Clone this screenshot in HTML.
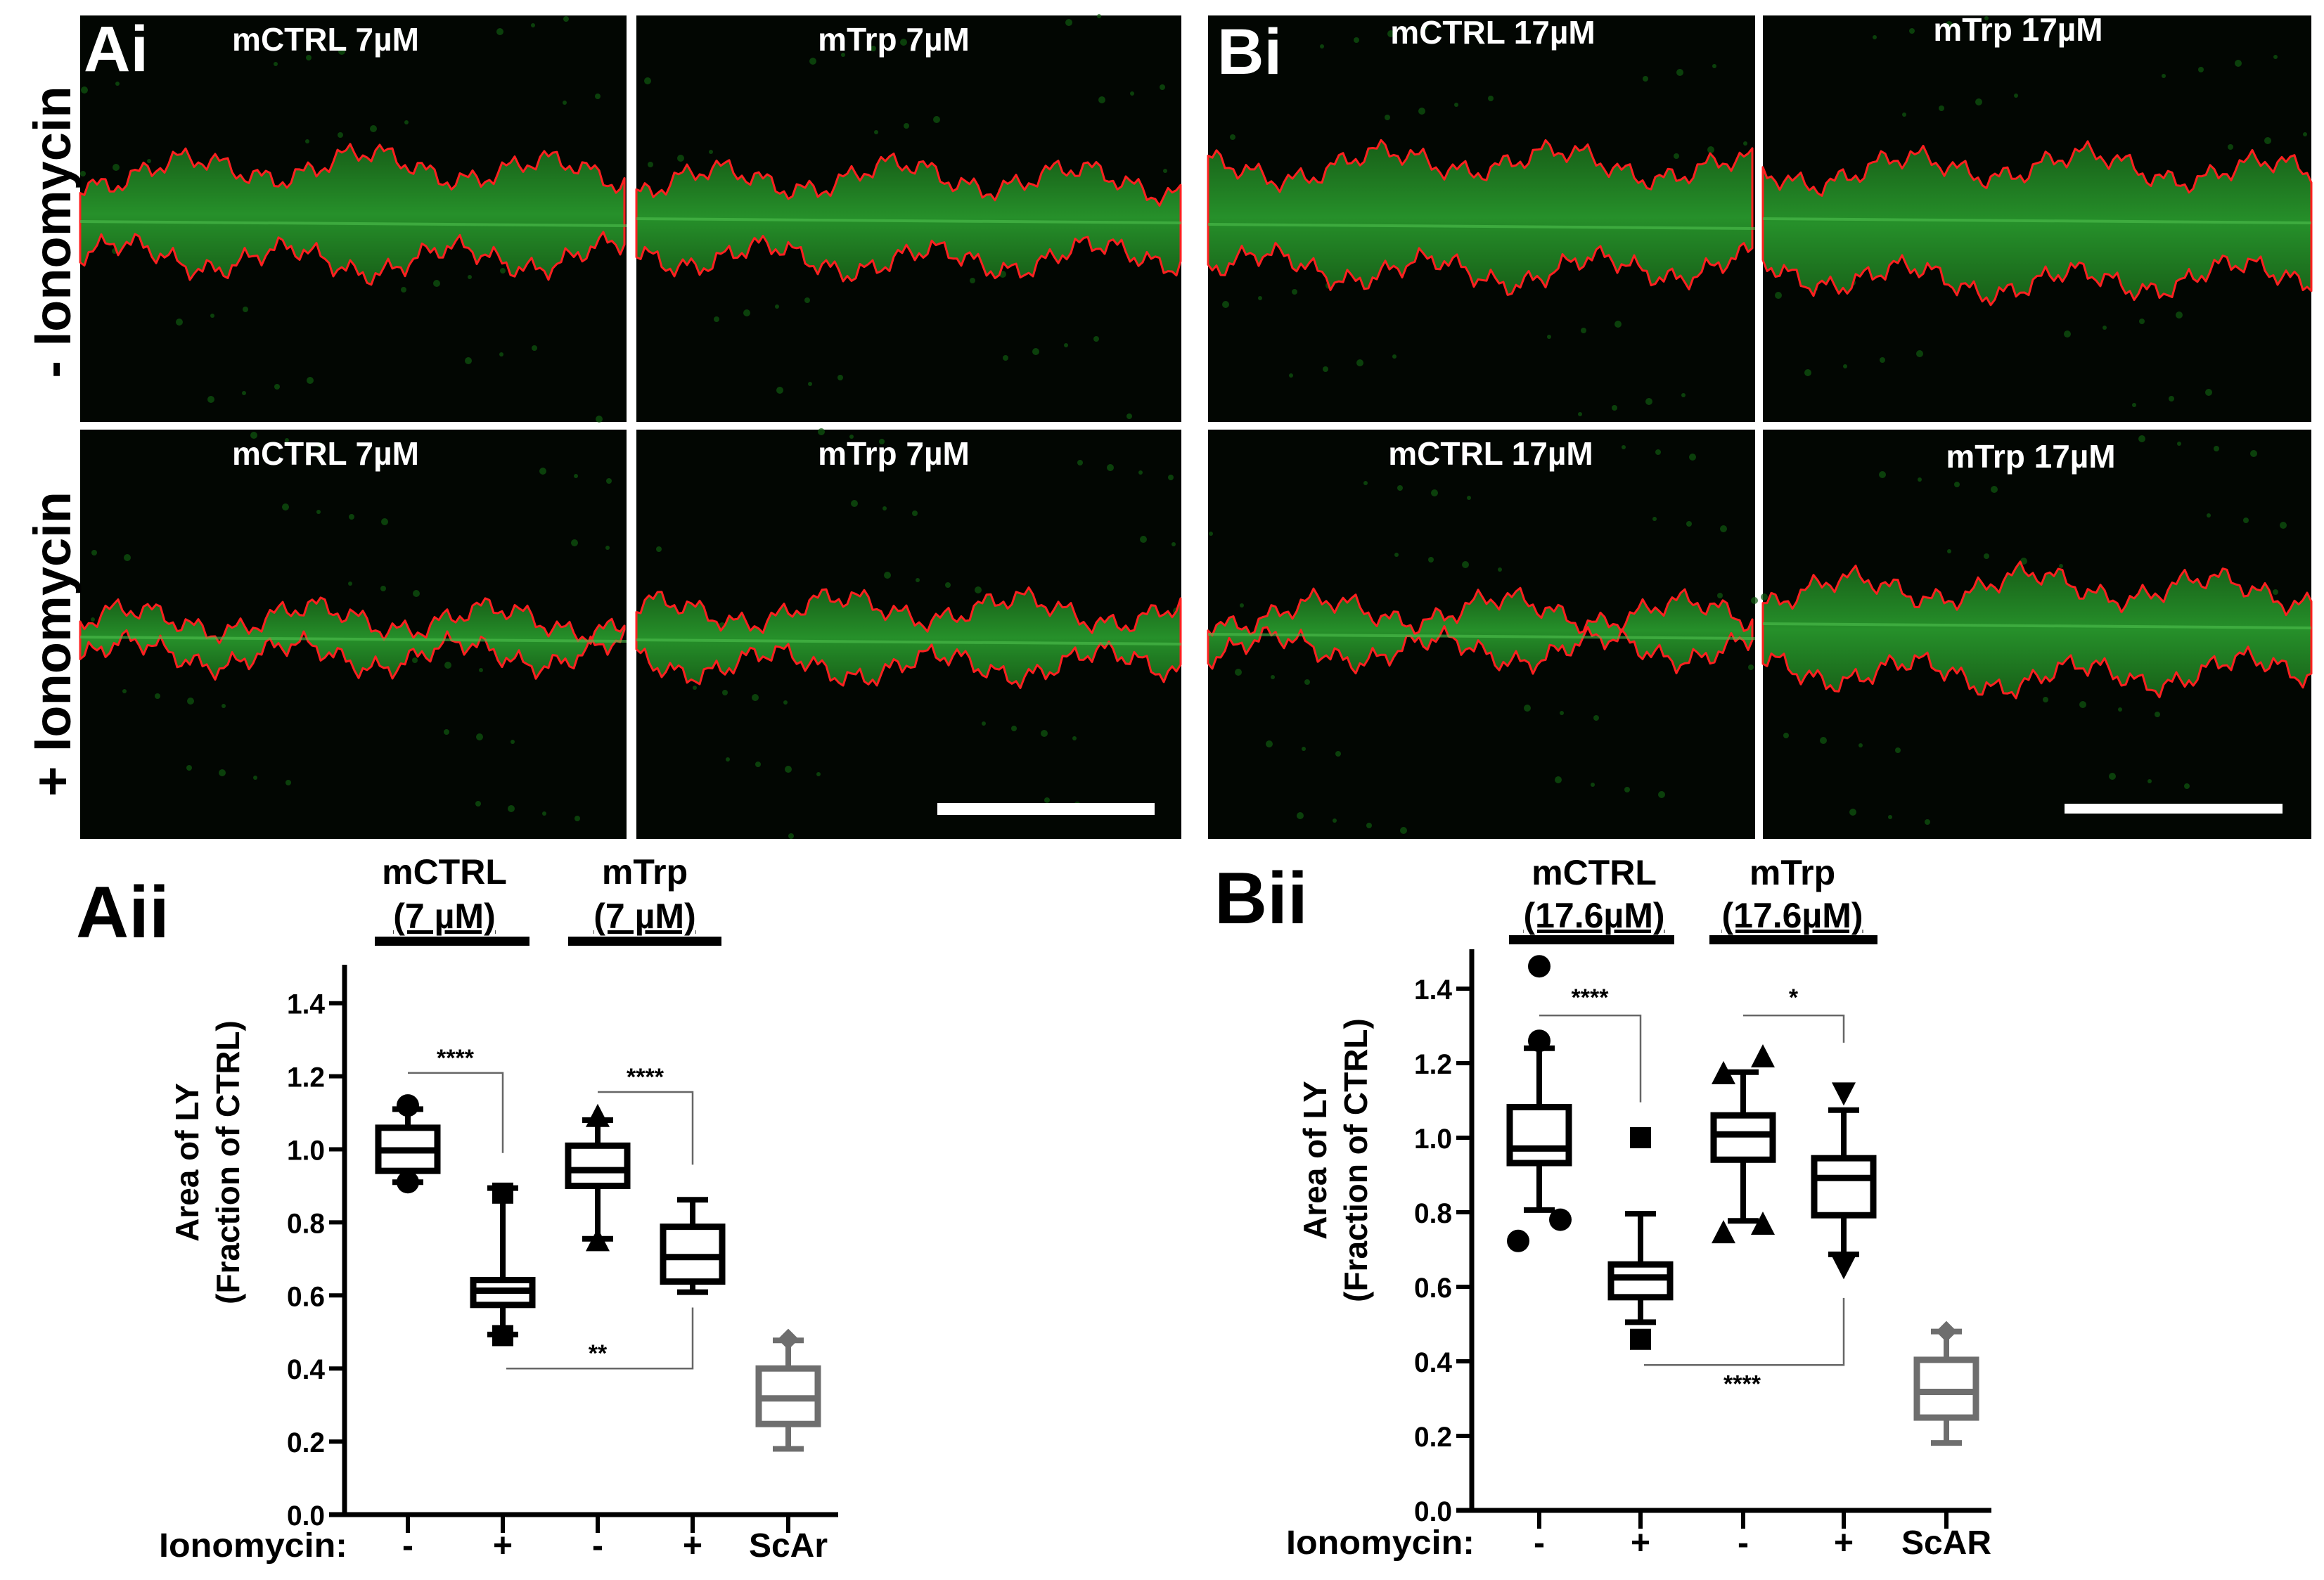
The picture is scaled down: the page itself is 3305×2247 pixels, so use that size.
<!DOCTYPE html>
<html><head><meta charset="utf-8"><style>
html,body{margin:0;padding:0;background:#fff}
svg{display:block}
text{font-family:"Liberation Sans",Arial,sans-serif}
</style></head><body>
<svg id="fig" width="3305" height="2247" viewBox="0 0 3305 2247" xmlns="http://www.w3.org/2000/svg">
<g id="micro"></g>
<g id="chartA"></g>
<g id="chartB"></g>
</svg>
<script>
// ---------- Chart data ----------
const aCats = ["-", "+", "-", "+", "ScAr"];
const aMin = [0.91, 0.493, 0.755, 0.609, 0.18];
const aQ1 = [0.941, 0.574, 0.90, 0.638, 0.248];
const aMed = [0.997, 0.613, 0.943, 0.705, 0.318];
const aQ3 = [1.059, 0.642, 1.01, 0.788, 0.40];
const aMax = [1.11, 0.894, 1.08, 0.862, 0.477];
const aOut = [[1.12, 0.91], [0.88, 0.49], [1.09, 0.75], [], [0.48]];
const aMarkers = ["circle", "square", "tri", "none", "diamond"];
const aTicks = ["0.0", "0.2", "0.4", "0.6", "0.8", "1.0", "1.2", "1.4"];

const bCats = ["-", "+", "-", "+", "ScAR"];
const bMin = [0.806, 0.505, 0.777, 0.687, 0.181];
const bQ1 = [0.932, 0.572, 0.941, 0.792, 0.249];
const bMed = [0.971, 0.625, 1.009, 0.892, 0.318];
const bQ3 = [1.082, 0.66, 1.06, 0.945, 0.404];
const bMax = [1.24, 0.796, 1.176, 1.074, 0.48];
const bOut = [[1.46, 1.26, 0.78, 0.723], [1.0, 0.459], [1.172, 1.217, 0.745, 0.768], [1.12, 0.654], [0.48]];
const bOutDx = [[0, 0, 30, -30], [0, 0], [-28, 28, -28, 28], [0, 0], [0]];
const bMarkers = ["circle", "square", "tri", "tridown", "diamond"];
const bTicks = ["0.0", "0.2", "0.4", "0.6", "0.8", "1.0", "1.2", "1.4"];

const NS = "http://www.w3.org/2000/svg";
function mk(tag, attrs, parent, txt) {
  const e = document.createElementNS(NS, tag);
  for (const k in attrs) e.setAttribute(k, attrs[k]);
  if (txt !== undefined) e.textContent = txt;
  parent.appendChild(e);
  return e;
}

// ---------- Micrographs ----------
const micro = document.getElementById("micro");
const panels = [
  {x:114,y:22,w:777,h:578,c:315,t:233,b:373,title:"mCTRL 7\u00B5M",tx:463,ty:72,s:1},
  {x:905,y:22,w:775,h:578,c:311,t:249,b:373,title:"mTrp 7\u00B5M",tx:1271,ty:72,s:2},
  {x:114,y:611,w:777,h:582,c:906,t:879,b:934,title:"mCTRL 7\u00B5M",tx:463,ty:661,s:3},
  {x:905,y:611,w:775,h:582,c:910,t:864,b:949,title:"mTrp 7\u00B5M",tx:1271,ty:661,s:4},
  {x:1718,y:22,w:778,h:578,c:319,t:226,b:389,title:"mCTRL 17\u00B5M",tx:2123,ty:62,s:5},
  {x:2507,y:22,w:780,h:578,c:311,t:233,b:405,title:"mTrp 17\u00B5M",tx:2870,ty:58,s:6},
  {x:1718,y:611,w:778,h:582,c:902,t:867,b:926,title:"mCTRL 17\u00B5M",tx:2120,ty:661,s:7},
  {x:2507,y:611,w:780,h:582,c:887,t:832,b:965,title:"mTrp 17\u00B5M",tx:2888,ty:665,s:8}
];
const defs = mk("defs", {}, micro);
const gr = mk("linearGradient", {id:"bandg", x1:"0", y1:"0", x2:"0", y2:"1"}, defs);
mk("stop", {offset:"0", "stop-color":"#175e17"}, gr);
mk("stop", {offset:"0.5", "stop-color":"#26902a"}, gr);
mk("stop", {offset:"1", "stop-color":"#175e17"}, gr);
panels.forEach((p, i) => {
  const g = mk("g", {}, micro);
  
  
  mk("rect", {x:p.x, y:p.y, width:p.w, height:p.h, fill:"#020602"}, g);
  for (let k = 0; k < 40; k++) {
    const sx = p.x + ((k * 137 + p.s * 53) % p.w);
    const sy = p.y + ((k * 211 + p.s * 97) % p.h);
    mk("circle", {cx:sx, cy:sy, r:3 + (k % 3), fill:"#0f5a0f", opacity:0.7}, g);
  }
  let top = [], bot = [];
  for (let xx = 0; xx <= p.w; xx += 6) {
    const j1 = 18*Math.sin(xx/41 + p.s) + 11*Math.sin(xx/9.3 + p.s*2) + 7*Math.sin(xx/3.1);
    const j2 = 18*Math.sin(xx/37 + p.s*3) + 11*Math.sin(xx/8.1 + p.s) + 7*Math.sin(xx/2.7);
    const taper = 1 - 0.2*Math.abs((xx - p.w/2)/(p.w/2));
    top.push([p.x+xx, p.c - (p.c - p.t)*taper + j1]);
    bot.push([p.x+xx, p.c + (p.b - p.c)*taper + j2]);
  }
  const pts = top.concat(bot.reverse()).map(q => q[0].toFixed(1)+","+q[1].toFixed(1)).join(" ");
  mk("polygon", {points:pts, fill:"url(#bandg)", stroke:"#ff2020", "stroke-width":3, "stroke-linejoin":"round"}, g);
  mk("line", {x1:p.x, y1:p.c, x2:p.x+p.w, y2:p.c+6, stroke:"#4ec04e", "stroke-width":4, opacity:0.6}, g);
  const t = mk("text", {x:p.tx, y:p.ty, "text-anchor":"middle", "font-size":46, "font-weight":"bold", fill:"#fff"}, g, p.title);
  
  
});
function lbl(parent, name, attrs, txt) {
  const t = mk("text", attrs, parent, txt);
  
  
  return t;
}
lbl(micro, "panel-label-ai", {x:119, y:101, "font-size":92, "font-weight":"bold", fill:"#fff"}, "Ai");
lbl(micro, "panel-label-bi", {x:1731, y:105, "font-size":92, "font-weight":"bold", fill:"#fff"}, "Bi");
lbl(micro, "row-label-minus", {x:0, y:0, "font-size":74, "font-weight":"bold", fill:"#000", "text-anchor":"middle", transform:"translate(100,330) rotate(-90)"}, "- Ionomycin");
lbl(micro, "row-label-plus", {x:0, y:0, "font-size":74, "font-weight":"bold", fill:"#000", "text-anchor":"middle", transform:"translate(100,916) rotate(-90)"}, "+ Ionomycin");
const sb1 = mk("rect", {x:1333, y:1142, width:309, height:17, fill:"#fff"}, micro);


const sb2 = mk("rect", {x:2936, y:1143, width:310, height:14, fill:"#fff"}, micro);



// ---------- Box charts ----------
function drawChart(gid, cfg) {
  const g = document.getElementById(gid);
  const y = v => cfg.y0 - v * cfg.ppu;
  const x = i => cfg.cx[i];
  mk("line", {x1:cfg.ax, y1:cfg.ytop, x2:cfg.ax, y2:cfg.y0+3, stroke:"#000", "stroke-width":7}, g);
  mk("line", {x1:cfg.ax-22, y1:cfg.y0, x2:cfg.xend, y2:cfg.y0, stroke:"#000", "stroke-width":7}, g);
  cfg.ticks.forEach((t, i) => {
    const v = parseFloat(t);
    mk("line", {x1:cfg.ax-22, y1:y(v), x2:cfg.ax, y2:y(v), stroke:"#000", "stroke-width":6}, g);
    lbl(g, "y-tick-label", {x:cfg.ax-28, y:y(v)+15, "text-anchor":"end", "font-size":40, "font-weight":"bold", textLength:54, lengthAdjust:"spacingAndGlyphs"}, t);
  });
  cfg.cats.forEach((c, i) => {
    mk("line", {x1:x(i), y1:cfg.y0, x2:x(i), y2:cfg.y0+26, stroke:"#000", "stroke-width":6}, g);
    lbl(g, "x-tick-label", {x:x(i), y:cfg.labY, "text-anchor":"middle", "font-size":48, "font-weight":"bold"}, c);
  });
  lbl(g, "x-axis-label", {x:cfg.ionoX, y:cfg.labY, "font-size":48, "font-weight":"bold", textLength:cfg.ionoW, lengthAdjust:"spacingAndGlyphs"}, "Ionomycin:");
  lbl(g, "y-axis-title", {x:0, y:0, "text-anchor":"middle", "font-size":46, "font-weight":"bold", transform:`translate(${cfg.t1},${cfg.tc}) rotate(-90)`}, "Area of LY");
  lbl(g, "y-axis-title-2", {x:0, y:0, "text-anchor":"middle", "font-size":46, "font-weight":"bold", transform:`translate(${cfg.t2},${cfg.tc}) rotate(-90)`}, "(Fraction of CTRL)");
  cfg.cats.forEach((c, i) => {
    const col = i === 4 ? "#6e6e6e" : "#000";
    const bg = mk("g", {}, g);
    
    
    const hw = 42, cw = 22;
    mk("line", {x1:x(i), y1:y(cfg.max[i]), x2:x(i), y2:y(cfg.q3[i]), stroke:col, "stroke-width":8}, bg);
    mk("line", {x1:x(i), y1:y(cfg.min[i]), x2:x(i), y2:y(cfg.q1[i]), stroke:col, "stroke-width":8}, bg);
    mk("line", {x1:x(i)-cw, y1:y(cfg.max[i]), x2:x(i)+cw, y2:y(cfg.max[i]), stroke:col, "stroke-width":8}, bg);
    mk("line", {x1:x(i)-cw, y1:y(cfg.min[i]), x2:x(i)+cw, y2:y(cfg.min[i]), stroke:col, "stroke-width":8}, bg);
    mk("rect", {x:x(i)-hw, y:y(cfg.q3[i]), width:2*hw, height:y(cfg.q1[i])-y(cfg.q3[i]), fill:"#fff", stroke:col, "stroke-width":9}, bg);
    mk("line", {x1:x(i)-hw, y1:y(cfg.med[i]), x2:x(i)+hw, y2:y(cfg.med[i]), stroke:col, "stroke-width":9}, bg);
    cfg.out[i].forEach((v, k) => {
      const ox = x(i) + (cfg.outDx ? cfg.outDx[i][k] : 0), oy = y(v), r = 15, m = cfg.markers[i];
      let e;
      if (m === "circle") e = mk("circle", {cx:ox, cy:oy, r:r+1, fill:"#000"}, bg);
      else if (m === "square") e = mk("rect", {x:ox-r, y:oy-r, width:2*r, height:2*r, fill:"#000"}, bg);
      else if (m === "tri") e = mk("polygon", {points:`${ox},${oy-r-3} ${ox+r+2},${oy+r} ${ox-r-2},${oy+r}`, fill:"#000"}, bg);
      else if (m === "tridown") e = mk("polygon", {points:`${ox},${oy+r+3} ${ox+r+2},${oy-r} ${ox-r-2},${oy-r}`, fill:"#000"}, bg);
      else e = mk("polygon", {points:`${ox},${oy-r} ${ox+r},${oy} ${ox},${oy+r} ${ox-r},${oy}`, fill:col}, bg);
      
      
    });
  });
  cfg.sig.forEach(s => {
    const sg = mk("g", {}, g);
    
    
    mk("polyline", {points:`${x(s.a)-s.da},${y(s.h)} ${x(s.b)},${y(s.h)} ${x(s.b)},${y(s.end)}`, fill:"none", stroke:"#666", "stroke-width":2.5}, sg);
    lbl(sg, "significance-label", {x:(x(s.a)+x(s.b))/2, y:y(s.h)+s.ly, "text-anchor":"middle", "font-size":34, "font-weight":"bold"}, s.t);
  });
  cfg.groups.forEach(gp => {
    const hg = mk("g", {}, g);
    
    
    lbl(hg, "group-name", {x:gp.cx, y:gp.y1, "text-anchor":"middle", "font-size":50, "font-weight":"bold"}, gp.n);
    lbl(hg, "group-conc", {x:gp.cx, y:gp.y2, "text-anchor":"middle", "font-size":50, "font-weight":"bold", "text-decoration":"underline"}, gp.c);
    mk("rect", {x:gp.x1, y:gp.by, width:gp.x2-gp.x1, height:13, fill:"#000"}, hg);
  });
  lbl(g, "panel-label", {x:cfg.pl[0], y:cfg.pl[1], "font-size":104, "font-weight":"bold"}, cfg.plt);
}

drawChart("chartA", {
  cats:aCats, min:aMin, q1:aQ1, med:aMed, q3:aQ3, max:aMax, out:aOut, markers:aMarkers, ticks:aTicks,
  y0:2154, ppu:519.5, ax:490, ytop:1372, xend:1192, cx:[580,715,850,985,1121],
  labY:2214, ionoX:226, ionoW:268, t1:282, t2:340, tc:1653,
  sig:[{a:0,b:1,h:1.209,end:0.99,t:"****",ly:-10,da:0},{a:2,b:3,h:1.157,end:0.958,t:"****",ly:-10,da:0},{a:1,b:3,h:0.40,end:0.567,t:"**",ly:-10,da:-5}],
  groups:[{n:"mCTRL",c:"(7 \u00B5M)",cx:632,y1:1257,y2:1320,x1:533,x2:753,by:1332},{n:"mTrp",c:"(7 \u00B5M)",cx:917,y1:1257,y2:1320,x1:808,x2:1026,by:1332}],
  pl:[108,1333], plt:"Aii"
});
drawChart("chartB", {
  cats:bCats, min:bMin, q1:bQ1, med:bMed, q3:bQ3, max:bMax, out:bOut, outDx:bOutDx, markers:bMarkers, ticks:bTicks,
  y0:2148, ppu:530, ax:2093, ytop:1350, xend:2832, cx:[2189,2333,2479,2622,2768],
  labY:2210, ionoX:1829, ionoW:268, t1:1886, t2:1944, tc:1650,
  sig:[{a:0,b:1,h:1.328,end:1.095,t:"****",ly:-14,da:0},{a:2,b:3,h:1.328,end:1.255,t:"*",ly:-14,da:0},{a:1,b:3,h:0.39,end:0.57,t:"****",ly:38,da:-5}],
  groups:[{n:"mCTRL",c:"(17.6\u00B5M)",cx:2267,y1:1258,y2:1319,x1:2146,x2:2381,by:1330},{n:"mTrp",c:"(17.6\u00B5M)",cx:2549,y1:1258,y2:1319,x1:2431,x2:2670,by:1330}],
  pl:[1727,1313], plt:"Bii"
});
</script>
</body></html>
